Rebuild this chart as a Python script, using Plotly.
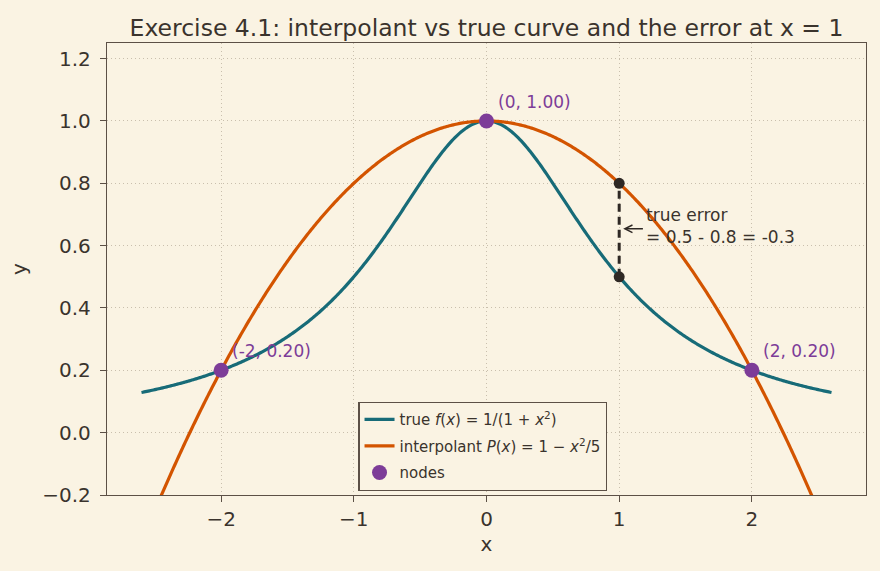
import numpy as np
import plotly.graph_objects as go

# ---- data ----
x_curve = np.linspace(-2.6, 2.6, 521)
true_vals = 1.0 / (1.0 + x_curve**2)          # f(x) = 1/(1+x^2)
interp_vals = 1.0 - x_curve**2 / 5.0          # P(x) = 1 - x^2/5
node_x = [-2, 0, 2]
node_y = [0.20, 1.00, 0.20]
node_labels = ["(-2, 0.20)", "(0, 1.00)", "(2, 0.20)"]
err_x = [1, 1]
err_y = [0.5, 0.8]
x_ticks = [-2, -1, 0, 1, 2]
x_tick_text = ["\u22122", "\u22121", "0", "1", "2"]
y_ticks = [-0.2, 0.0, 0.2, 0.4, 0.6, 0.8, 1.0, 1.2]
y_tick_text = ["\u22120.2", "0.0", "0.2", "0.4", "0.6", "0.8", "1.0", "1.2"]

BG = "#faf3e3"
TEAL = "#176b78"
ORANGE = "#d35400"
PURPLE = "#7d3c98"
DARK = "#2e2824"
SPINE = "#5c5046"
TEXT = "#3a332d"
GRID = "#c9bfad"
FONT = "DejaVu Sans"

fig = go.Figure()
fig.add_trace(go.Scatter(x=x_curve, y=true_vals, mode="lines",
                         line=dict(color=TEAL, width=3.2, simplify=False),
                         legendgroup="a",
                         name="true <i>f</i>(<i>x</i>) = 1/(1 + <i>x</i><sup>2</sup>)"))
fig.add_trace(go.Scatter(x=x_curve, y=interp_vals, mode="lines",
                         line=dict(color=ORANGE, width=3.2, simplify=False),
                         legendgroup="b",
                         name="interpolant <i>P</i>(<i>x</i>) = 1 \u2212 <i>x</i><sup>2</sup>/5"))
fig.add_trace(go.Scatter(x=err_x, y=err_y, mode="lines+markers",
                         line=dict(color=DARK, width=3, dash="8px,5px"),
                         marker=dict(color=DARK, size=11), showlegend=False))
fig.add_trace(go.Scatter(x=node_x, y=node_y, mode="markers",
                         marker=dict(color=PURPLE, size=15), name="nodes",
                         legendgroup="c"))

for nx, ny, lab in zip(node_x, node_y, node_labels):
    fig.add_annotation(x=nx, y=ny, text=lab, showarrow=False,
                       xanchor="left", yanchor="bottom", xshift=9, yshift=7,
                       font=dict(color=PURPLE, size=17, family=FONT))

fig.add_annotation(x=1.03, y=0.654, ax=1.19, ay=0.654, xref="x", yref="y",
                   axref="x", ayref="y", text="", showarrow=True,
                   arrowhead=5, arrowsize=1.0, arrowwidth=1.5, arrowcolor=DARK,
                   standoff=0)
fig.add_annotation(x=1.2, y=0.662, text="true error<br>= 0.5 - 0.8 = -0.3",
                   showarrow=False, xanchor="left", yanchor="middle", align="left",
                   xshift=-2,
                   font=dict(color=TEXT, size=17, family=FONT))

fig.update_layout(
    width=880, height=571,
    margin=dict(l=107, r=14, t=43, b=76),
    paper_bgcolor=BG, plot_bgcolor=BG,
    font=dict(family=FONT, color=TEXT, size=20),
    title=dict(text="Exercise 4.1: interpolant vs true curve and the error at x = 1",
               x=0.5, xref="paper", xanchor="center", y=1, yref="paper", yanchor="bottom",
               pad=dict(b=7),
               font=dict(size=23.5, family=FONT, color=TEXT)),
    legend=dict(x=0.331, y=0.206, xanchor="left", yanchor="top",
                bgcolor=BG, bordercolor=SPINE, borderwidth=1.3,
                font=dict(size=15, family=FONT, color=TEXT),
                tracegroupgap=4),
    showlegend=True,
)
fig.update_xaxes(range=[-2.86, 2.86], tickvals=x_ticks, ticktext=x_tick_text,
                 showline=True, linecolor=SPINE, linewidth=1.3, mirror=True,
                 ticks="outside", ticklen=6, tickcolor=SPINE,
                 showgrid=True, gridcolor=GRID, griddash="1px,3px", gridwidth=1,
                 zeroline=False, title=dict(text="x", standoff=6, font=dict(size=20)),
                 tickfont=dict(size=20))
fig.update_yaxes(range=[-0.2, 1.25], tickvals=y_ticks, ticktext=y_tick_text,
                 showline=True, linecolor=SPINE, linewidth=1.3, mirror=True,
                 ticks="outside", ticklen=6, tickcolor=SPINE, ticklabelstandoff=5,
                 showgrid=True, gridcolor=GRID, griddash="1px,3px", gridwidth=1,
                 zeroline=False, title=dict(text="y", standoff=10, font=dict(size=20)),
                 tickfont=dict(size=20))

fig.write_html("out.html")
